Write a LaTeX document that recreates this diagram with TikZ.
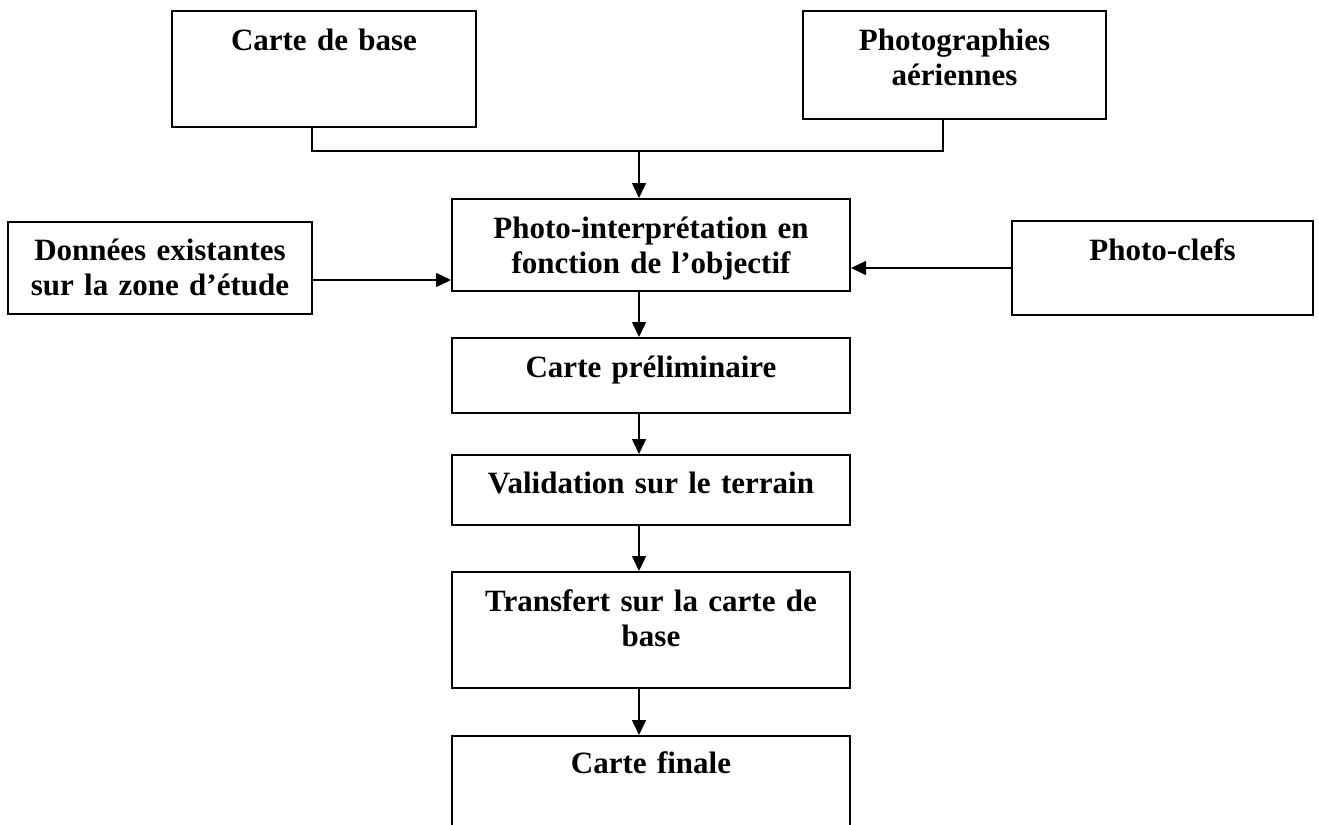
\documentclass[tikz,border=0pt]{standalone}
\usepackage{fontspec}
\setmainfont{Liberation Serif}
\usetikzlibrary{arrows.meta}

\tikzset{
  boite/.style={draw, line width=1pt, inner sep=0pt, align=center, anchor=base,
    font=\bfseries\fontsize{15.5}{17.5}\selectfont},
  fleche/.style={line width=0.75pt, -{Triangle[length=7.5pt,width=7pt]}},
  lien/.style={line width=0.75pt}
}

\begin{document}
\begin{tikzpicture}[x=0.5pt,y=-0.5pt]
  \useasboundingbox (0,0) rectangle (1319,825);
  % sources
  \node[boite, text width=152pt, text height=19.5pt, text depth=38.5pt] (carte) at (324,50) {Carte de base};
  \node[boite, text width=151.5pt, text height=19.5pt, text depth=34.5pt] (photos) at (954.5,50) {Photographies\\a\'eriennes};
  \node[boite, text width=152pt, text height=19pt, text depth=27pt] (donnees) at (160,260) {Donn\'ees existantes\\sur la zone d'\'etude};
  \node[boite, text width=199pt, text height=19.5pt, text depth=26.5pt] (interp) at (651,238) {Photo-interpr\'etation en\\fonction de l'objectif};
  \node[boite, text width=150.5pt, text height=19.5pt, text depth=27.5pt] (clefs) at (1162.5,260) {Photo-clefs};
  % chaine principale
  \node[boite, text width=199pt, text height=19.5pt, text depth=18pt] (prelim) at (651,377) {Carte pr\'eliminaire};
  \node[boite, text width=199pt, text height=19pt, text depth=16pt] (terrain) at (651,493) {Validation sur le terrain};
  \node[boite, text width=199pt, text height=19.5pt, text depth=38.5pt] (transfert) at (651,611) {Transfert sur la carte de\\base};
  \node[boite, text width=199pt, text height=18.5pt, text depth=50pt] (finale) at (651,773) {Carte finale};

  \coordinate (axe) at (639,151);
  \coordinate (dsort) at ([yshift=-6pt]donnees.east);
  \draw[lien] ([xshift=-6pt]carte.south) |- (axe) -| ([xshift=-5.75pt]photos.south);
  \draw[fleche] (axe) -- (interp.north -| axe);
  \draw[fleche] (dsort) -- (dsort -| interp.west);
  \draw[fleche] (clefs.west) -- (clefs.west -| interp.east);
  \draw[fleche] (interp.south -| axe) -- (prelim.north -| axe);
  \draw[fleche] (prelim.south -| axe) -- (terrain.north -| axe);
  \draw[fleche] (terrain.south -| axe) -- (transfert.north -| axe);
  \draw[fleche] (transfert.south -| axe) -- (finale.north -| axe);
\end{tikzpicture}
\end{document}
